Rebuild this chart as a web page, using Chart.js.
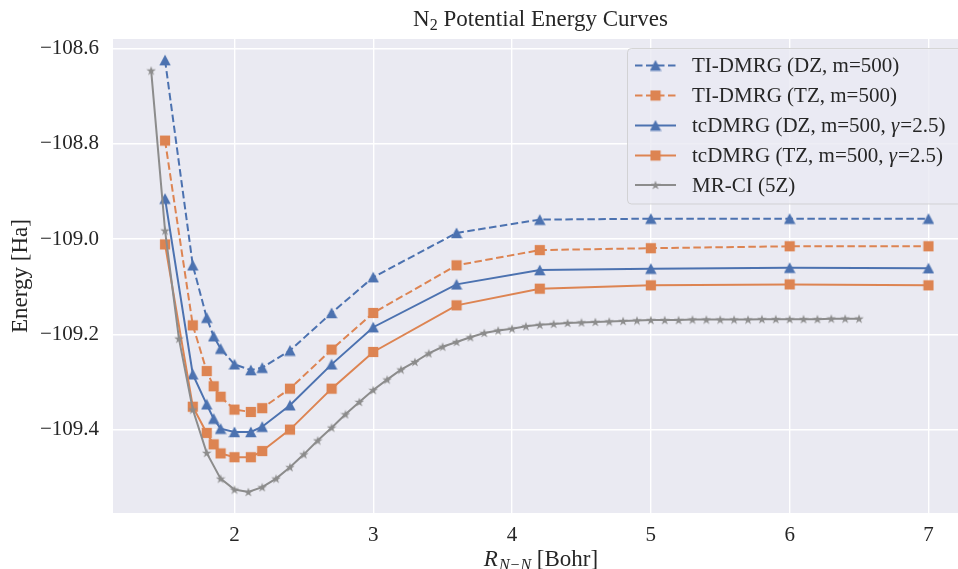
<!DOCTYPE html>
<html><head><meta charset="utf-8">
<script src="https://cdn.jsdelivr.net/npm/chart.js@4/dist/chart.umd.min.js"></script>
<style>html,body{margin:0;padding:0;background:#fff;overflow:hidden}
#wrap{position:relative;width:975px;height:569px}</style></head>
<body><div id="wrap"><canvas id="c" width="975" height="569"></canvas></div>
<script>
// ---- data ----
const distances = [1.5, 1.7, 1.8, 1.85, 1.9, 2.0, 2.118, 2.2, 2.4, 2.7, 3.0, 3.6, 4.2, 5.0, 6.0, 7.0];
const tiDmrgDZ = [-108.624, -109.055, -109.165, -109.204, -109.230, -109.263, -109.275, -109.270, -109.234, -109.155, -109.080, -108.987, -108.959, -108.957, -108.957, -108.957];
const tiDmrgTZ = [-108.793, -109.181, -109.277, -109.309, -109.331, -109.358, -109.363, -109.355, -109.314, -109.232, -109.155, -109.055, -109.023, -109.019, -109.015, -109.015];
const tcDmrgDZ = [-108.915, -109.284, -109.347, -109.377, -109.398, -109.405, -109.405, -109.394, -109.349, -109.263, -109.185, -109.095, -109.065, -109.062, -109.060, -109.061];
const tcDmrgTZ = [-109.011, -109.352, -109.407, -109.431, -109.450, -109.458, -109.458, -109.445, -109.400, -109.314, -109.237, -109.139, -109.104, -109.097, -109.095, -109.097];
const mrciDistances = [1.4, 1.5, 1.6, 1.7, 1.8, 1.9, 2.0, 2.1, 2.2, 2.3, 2.4, 2.5, 2.6, 2.7, 2.8, 2.9, 3.0, 3.1, 3.2, 3.3, 3.4, 3.5, 3.6, 3.7, 3.8, 3.9, 4.0, 4.1, 4.2, 4.3, 4.4, 4.5, 4.6, 4.7, 4.8, 4.9, 5.0, 5.1, 5.2, 5.3, 5.4, 5.5, 5.6, 5.7, 5.8, 5.9, 6.0, 6.1, 6.2, 6.3, 6.4, 6.5];
const mrci5Z = [-108.646, -108.982, -109.209, -109.358, -109.449, -109.503, -109.526, -109.531, -109.521, -109.503, -109.479, -109.452, -109.423, -109.396, -109.368, -109.342, -109.317, -109.295, -109.274, -109.258, -109.240, -109.226, -109.216, -109.206, -109.197, -109.192, -109.188, -109.183, -109.180, -109.178, -109.176, -109.175, -109.174, -109.173, -109.172, -109.171, -109.170, -109.170, -109.170, -109.169, -109.169, -109.169, -109.169, -109.169, -109.168, -109.168, -109.168, -109.168, -109.168, -109.167, -109.167, -109.167];
const seriesLabels = ["TI-DMRG (DZ, m=500)", "TI-DMRG (TZ, m=500)", "tcDMRG (DZ, m=500, \u03B3=2.5)", "tcDMRG (TZ, m=500, \u03B3=2.5)", "MR-CI (5Z)"];
const xTicks = [2, 3, 4, 5, 6, 7];
const yTicks = [-109.4, -109.2, -109.0, -108.8, -108.6];
const titleMain = "N", titleSub = "2", titleRest = " Potential Energy Curves";
const yLabel = "Energy [Ha]";
const xLabelMain = "R", xLabelSub = "N\u2212N", xLabelRest = " [Bohr]";

// ---- style ----
const BLUE = '#4C72B0', ORANGE = '#DD8452', GRAY = '#8C8C8C', TXT = '#262626';
const SERIF = '"Liberation Serif", "Times New Roman", serif';

function markerCanvas(kind, color) {
  const c = document.createElement('canvas');
  const s = kind === 'star' ? 10 : 12;
  c.width = s; c.height = s;
  const g = c.getContext('2d');
  g.fillStyle = color;
  g.beginPath();
  if (kind === 'tri') {
    g.moveTo(6, 0.4); g.lineTo(11.7, 11.2); g.lineTo(0.3, 11.2); g.closePath();
  } else if (kind === 'sq') {
    g.rect(0.9, 0.9, 10.2, 10.2);
  } else {
    const R = 5, r = R * 0.382, cx = 5, cy = 5.4;
    for (let i = 0; i < 10; i++) {
      const a = -Math.PI / 2 + i * Math.PI / 5;
      const rr = i % 2 ? r : R;
      const px = cx + rr * Math.cos(a), py = cy + rr * Math.sin(a);
      i ? g.lineTo(px, py) : g.moveTo(px, py);
    }
    g.closePath();
  }
  g.fill();
  return c;
}
const triBlue = markerCanvas('tri', BLUE);
const sqOrange = markerCanvas('sq', ORANGE);
const starGray = markerCanvas('star', GRAY);

function pts(xs, ys) { return xs.map((x, i) => ({ x: x, y: ys[i] })); }
const DASH = [7.5, 3.5];
const seriesDefs = [
  { data: pts(distances, tiDmrgDZ), color: BLUE, dash: DASH, marker: triBlue },
  { data: pts(distances, tiDmrgTZ), color: ORANGE, dash: DASH, marker: sqOrange },
  { data: pts(distances, tcDmrgDZ), color: BLUE, dash: [], marker: triBlue },
  { data: pts(distances, tcDmrgTZ), color: ORANGE, dash: [], marker: sqOrange },
  { data: pts(mrciDistances, mrci5Z), color: GRAY, dash: [], marker: starGray }
];
const datasets = seriesDefs.map((s, i) => ({
  label: seriesLabels[i], data: s.data, borderColor: s.color, backgroundColor: s.color,
  borderDash: s.dash, borderWidth: 2, pointStyle: s.marker, pointRadius: 5, pointHoverRadius: 5,
  tension: 0, fill: false, order: 5 - i
}));

const bgPlugin = {
  id: 'bg',
  beforeDraw(chart) {
    const a = chart.chartArea, ctx = chart.ctx;
    ctx.save(); ctx.fillStyle = '#EAEAF2';
    ctx.fillRect(a.left, a.top, a.right - a.left, a.bottom - a.top);
    ctx.restore();
  }
};

function drawLegendLabel(ctx, text, x, y) {
  const font = '21px ' + SERIF, ifont = 'italic 21px ' + SERIF;
  const parts = text.split('\u03B3');
  ctx.font = font; ctx.fillText(parts[0], x, y);
  if (parts.length > 1) {
    x += ctx.measureText(parts[0]).width;
    ctx.font = ifont; ctx.fillText('\u03B3', x, y); x += ctx.measureText('\u03B3').width + 1;
    ctx.font = font; ctx.fillText(parts[1], x, y);
  }
}

const textPlugin = {
  id: 'texts',
  afterDraw(chart) {
    const ctx = chart.ctx, a = chart.chartArea;
    const cx = (a.left + a.right) / 2;
    ctx.save();
    ctx.fillStyle = TXT; ctx.textBaseline = 'alphabetic';
    // title
    const f1 = '23px ' + SERIF, f1s = '16px ' + SERIF;
    ctx.font = f1; const w1 = ctx.measureText(titleMain).width, w3 = ctx.measureText(titleRest).width;
    ctx.font = f1s; const w2 = ctx.measureText(titleSub).width;
    let x = cx - (w1 + w2 + w3) / 2; const by = 26;
    ctx.textAlign = 'left';
    ctx.font = f1; ctx.fillText(titleMain, x, by); x += w1;
    ctx.font = f1s; ctx.fillText(titleSub, x, by + 4); x += w2;
    ctx.font = f1; ctx.fillText(titleRest, x, by);
    // x label
    const fi = 'italic 23px ' + SERIF, fis = 'italic 16px ' + SERIF;
    ctx.font = fi; const v1 = ctx.measureText(xLabelMain).width;
    ctx.font = fis; const v2 = ctx.measureText(xLabelSub).width;
    ctx.font = f1; const v3 = ctx.measureText(xLabelRest).width;
    x = cx - (v1 + v2 + v3) / 2; const bx = 566;
    ctx.font = fi; ctx.fillText(xLabelMain, x, bx); x += v1 + 1;
    ctx.font = fis; ctx.fillText(xLabelSub, x, bx + 4); x += v2;
    ctx.font = f1; ctx.fillText(xLabelRest, x, bx);
    // y label
    ctx.translate(27, (a.top + a.bottom) / 2); ctx.rotate(-Math.PI / 2);
    ctx.textAlign = 'center'; ctx.font = f1; ctx.fillText(yLabel, 0, 0);
    ctx.restore();

    // legend
    ctx.save();
    const lx = 627.5, ly = 48.5, lw = 340, lh = 155.5, r = 4;
    ctx.beginPath();
    ctx.moveTo(lx + r, ly); ctx.lineTo(lx + lw - r, ly); ctx.arcTo(lx + lw, ly, lx + lw, ly + r, r);
    ctx.lineTo(lx + lw, ly + lh - r); ctx.arcTo(lx + lw, ly + lh, lx + lw - r, ly + lh, r);
    ctx.lineTo(lx + r, ly + lh); ctx.arcTo(lx, ly + lh, lx, ly + lh - r, r);
    ctx.lineTo(lx, ly + r); ctx.arcTo(lx, ly, lx + r, ly, r); ctx.closePath();
    ctx.fillStyle = 'rgba(234,234,242,0.8)'; ctx.fill();
    ctx.strokeStyle = 'rgba(204,204,204,0.8)'; ctx.lineWidth = 1; ctx.stroke();
    const rows = [65.5, 95.5, 125.5, 155.5, 185];
    seriesDefs.forEach((s, i) => {
      const y = rows[i];
      ctx.beginPath(); ctx.setLineDash(s.dash); ctx.strokeStyle = s.color; ctx.lineWidth = 2;
      ctx.moveTo(635, y); ctx.lineTo(676, y); ctx.stroke();
      ctx.setLineDash([]);
      ctx.drawImage(s.marker, 655.5 - s.marker.width / 2, y - s.marker.height / 2);
      ctx.fillStyle = TXT; ctx.textAlign = 'left'; ctx.textBaseline = 'middle';
      drawLegendLabel(ctx, seriesLabels[i], 692, y + 1);
    });
    ctx.restore();
  }
};

const fmt = v => (v < 0 ? '\u2212' : '') + Math.abs(v).toFixed(1);

new Chart(document.getElementById('c'), {
  type: 'line',
  data: { datasets: datasets },
  options: {
    responsive: false, animation: false, devicePixelRatio: 1,
    layout: { padding: { left: 0, right: 2, top: 39, bottom: 0 } },
    plugins: { legend: { display: false }, title: { display: false }, tooltip: { enabled: false } },
    scales: {
      x: {
        type: 'linear', min: 1.125, max: 7.285,
        afterBuildTicks: s => { s.ticks = xTicks.map(v => ({ value: v })); },
        afterFit: s => { s.height = 56; },
        ticks: { font: { family: SERIF, size: 21 }, color: TXT, padding: 10, callback: v => String(v) },
        grid: { color: '#FFFFFF', lineWidth: 1.4, drawTicks: false },
        border: { display: false }
      },
      y: {
        type: 'linear', min: -109.5752, max: -108.5796,
        afterBuildTicks: s => { s.ticks = yTicks.map(v => ({ value: v })); },
        afterFit: s => { s.width = 113; },
        ticks: { font: { family: SERIF, size: 21 }, color: TXT, padding: 14, callback: v => fmt(v) },
        grid: { color: '#FFFFFF', lineWidth: 1.4, drawTicks: false },
        border: { display: false }
      }
    }
  },
  plugins: [bgPlugin, textPlugin]
});
</script></body></html>
